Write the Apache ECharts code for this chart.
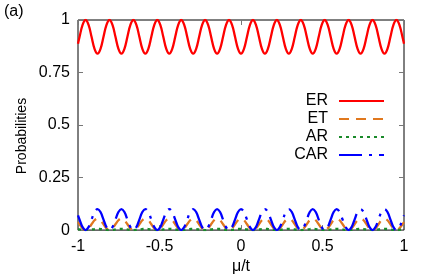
<!DOCTYPE html>
<html><head><meta charset="utf-8">
<script src="https://cdn.jsdelivr.net/npm/echarts@6/dist/echarts.min.js"></script>
<style>html,body{margin:0;padding:0;background:#fff}#c{width:436px;height:280px}</style>
</head><body><div id="c"></div>
<script>
const mu = [-1,-0.9903,-0.9719,-0.9536,-0.9352,-0.9169,-0.8986,-0.8802,-0.8619,-0.8435,-0.8252,-0.8069,-0.7885,-0.7702,-0.7519,-0.7335,-0.7152,-0.6968,-0.6785,-0.6602,-0.6418,-0.6235,-0.6052,-0.5868,-0.5685,-0.5501,-0.5318,-0.5135,-0.4951,-0.4768,-0.4585,-0.4401,-0.4218,-0.4034,-0.3851,-0.3668,-0.3484,-0.3301,-0.3117,-0.2934,-0.2751,-0.2567,-0.2384,-0.2201,-0.2017,-0.1834,-0.1650,-0.1467,-0.1284,-0.1100,-0.0917,-0.0734,-0.0550,-0.0367,-0.0183,0,0.0183,0.0367,0.0550,0.0734,0.0917,0.1100,0.1284,0.1467,0.1650,0.1834,0.2017,0.2201,0.2384,0.2567,0.2751,0.2934,0.3117,0.3301,0.3484,0.3668,0.3851,0.4034,0.4218,0.4401,0.4585,0.4768,0.4951,0.5135,0.5318,0.5501,0.5685,0.5868,0.6052,0.6235,0.6418,0.6602,0.6785,0.6968,0.7152,0.7335,0.7519,0.7702,0.7885,0.8069,0.8252,0.8435,0.8619,0.8802,0.8986,0.9169,0.9352,0.9536,0.9719,0.9903,1];

const ER = [0.887,
0.92,0.977,1,0.977,
0.92,0.863,0.84,0.863,0.92,0.977,1,0.977,
0.92,0.863,0.84,0.863,0.92,0.977,1,0.977,
0.92,0.863,0.84,0.863,0.92,0.977,1,0.977,
0.92,0.863,0.84,0.863,0.92,0.977,1,0.977,
0.92,0.863,0.84,0.863,0.92,0.977,1,0.977,
0.92,0.863,0.84,0.863,0.92,0.977,1,0.977,
0.92,0.863,0.84,0.863,0.92,0.977,1,0.977,
0.92,0.863,0.84,0.863,0.92,0.977,1,0.977,
0.92,0.863,0.84,0.863,0.92,0.977,1,0.977,
0.92,0.863,0.84,0.863,0.92,0.977,1,0.977,
0.92,0.863,0.84,0.863,0.92,0.977,1,0.977,
0.92,0.863,0.84,0.863,0.92,0.977,1,0.977,
0.92,0.863,0.84,0.863,0.92,0.977,1,0.977,
0.92,0.887];

const ET = [0.038,
0.028,0.008,0,0.008,
0.028,0.047,0.055,0.047,0.028,0.008,0,0.008,
0.028,0.047,0.055,0.047,0.028,0.008,0,0.008,
0.028,0.047,0.055,0.047,0.028,0.008,0,0.008,
0.028,0.047,0.055,0.047,0.028,0.008,0,0.008,
0.028,0.047,0.055,0.047,0.028,0.008,0,0.008,
0.028,0.047,0.055,0.047,0.028,0.008,0,0.008,
0.028,0.047,0.055,0.047,0.028,0.008,0,0.008,
0.028,0.047,0.055,0.047,0.028,0.008,0,0.008,
0.028,0.047,0.055,0.047,0.028,0.008,0,0.008,
0.028,0.047,0.055,0.047,0.028,0.008,0,0.008,
0.028,0.047,0.055,0.047,0.028,0.008,0,0.008,
0.028,0.047,0.055,0.047,0.028,0.008,0,0.008,
0.028,0.047,0.055,0.047,0.028,0.008,0,0.008,
0.028,0.038];

const AR = [0.004,
0.003,0.001,0,0.001,
0.003,0.005,0.006,0.005,0.003,0.001,0,0.001,
0.003,0.005,0.006,0.005,0.003,0.001,0,0.001,
0.003,0.005,0.006,0.005,0.003,0.001,0,0.001,
0.003,0.005,0.006,0.005,0.003,0.001,0,0.001,
0.003,0.005,0.006,0.005,0.003,0.001,0,0.001,
0.003,0.005,0.006,0.005,0.003,0.001,0,0.001,
0.003,0.005,0.006,0.005,0.003,0.001,0,0.001,
0.003,0.005,0.006,0.005,0.003,0.001,0,0.001,
0.003,0.005,0.006,0.005,0.003,0.001,0,0.001,
0.003,0.005,0.006,0.005,0.003,0.001,0,0.001,
0.003,0.005,0.006,0.005,0.003,0.001,0,0.001,
0.003,0.005,0.006,0.005,0.003,0.001,0,0.001,
0.003,0.005,0.006,0.005,0.003,0.001,0,0.001,
0.003,0.004];

const CAR = [0.07,
0.05,0.014,0,0.014,
0.05,0.086,0.1,0.086,0.05,0.014,0,0.014,
0.05,0.086,0.1,0.086,0.05,0.014,0,0.014,
0.05,0.086,0.1,0.086,0.05,0.014,0,0.014,
0.05,0.086,0.1,0.086,0.05,0.014,0,0.014,
0.05,0.086,0.1,0.086,0.05,0.014,0,0.014,
0.05,0.086,0.1,0.086,0.05,0.014,0,0.014,
0.05,0.086,0.1,0.086,0.05,0.014,0,0.014,
0.05,0.086,0.1,0.086,0.05,0.014,0,0.014,
0.05,0.086,0.1,0.086,0.05,0.014,0,0.014,
0.05,0.086,0.1,0.086,0.05,0.014,0,0.014,
0.05,0.086,0.1,0.086,0.05,0.014,0,0.014,
0.05,0.086,0.1,0.086,0.05,0.014,0,0.014,
0.05,0.086,0.1,0.086,0.05,0.014,0,0.014,
0.05,0.07];

const seriesNames = ['ER','ET','AR','CAR'];
const xTicks = [-1,-0.5,0,0.5,1];
const yTicks = [0,0.25,0.5,0.75,1];

const FONT = 'Liberation Sans';
const chart = echarts.init(document.getElementById('c'), null, {renderer:'canvas'});
const pair = arr => mu.map((x,i)=>[x, arr[i]]);
const tick = {show:true, inside:true, length:5, lineStyle:{color:'#777', width:1}};
const baseX = {type:'value', min:xTicks[0], max:xTicks[xTicks.length-1], interval:0.5,
  axisLine:{show:false, onZero:false}, splitLine:{show:false}, axisTick:tick};
const baseY = {type:'value', min:yTicks[0], max:yTicks[yTicks.length-1], interval:0.25,
  axisLine:{show:false, onZero:false}, splitLine:{show:false}, axisTick:tick};

chart.setOption({
  animation:false,
  textStyle:{fontFamily:FONT},
  grid:{left:78, right:32, top:20, bottom:47, show:true, borderColor:'#000', borderWidth:1, backgroundColor:'transparent'},
  xAxis:[
    Object.assign({}, baseX, {position:'bottom', name:'μ/t', nameLocation:'middle', nameGap:27,
      nameTextStyle:{fontFamily:FONT, fontSize:16, color:'#000'},
      axisLabel:{fontFamily:FONT, fontSize:16, color:'#000', margin:8}}),
    Object.assign({}, baseX, {position:'top', axisLabel:{show:false}})
  ],
  yAxis:[
    Object.assign({}, baseY, {position:'left',
      axisLabel:{fontFamily:FONT, fontSize:16, color:'#000', margin:8}}),
    Object.assign({}, baseY, {position:'right', axisLabel:{show:false}})
  ],
  legend:{
    orient:'vertical', align:'right', right:51, top:93, itemWidth:45, itemHeight:14, itemGap:2, padding:0,
    itemStyle:{opacity:0},
    textStyle:{fontFamily:FONT, fontSize:16, color:'#000', padding:[0,6,0,0]},
    data:seriesNames
  },
  graphic:[
    {type:'text', left:4, top:4, style:{text:'(a)', font:'16px "Liberation Sans"', fill:'#000'}},
    {type:'text', x:15, y:136, rotation:Math.PI/2, style:{text:'Probabilities', font:'14px "Liberation Sans"', fill:'#000', align:'center', verticalAlign:'top'}}
  ],
  series:[
    {name:'ER', type:'line', data:pair(ER), symbol:'none', smooth:0.4, lineStyle:{color:'#ff0000', width:2.3}, itemStyle:{color:'#ff0000'}},
    {name:'ET', type:'line', data:pair(ET), symbol:'none', smooth:0.4, lineStyle:{color:'#e0781e', width:2.3, type:[10,7]}, itemStyle:{color:'#e0781e'}},
    {name:'AR', type:'line', data:pair(AR), symbol:'none', smooth:0.4, lineStyle:{color:'#1a8a2a', width:2.3, type:[3,4]}, itemStyle:{color:'#1a8a2a'}},
    {name:'CAR', type:'line', data:pair(CAR), symbol:'none', smooth:0.4, lineStyle:{color:'#0000ff', width:2.3, type:[23,7,3,7]}, itemStyle:{color:'#0000ff'}}
  ]
});
</script></body></html>
